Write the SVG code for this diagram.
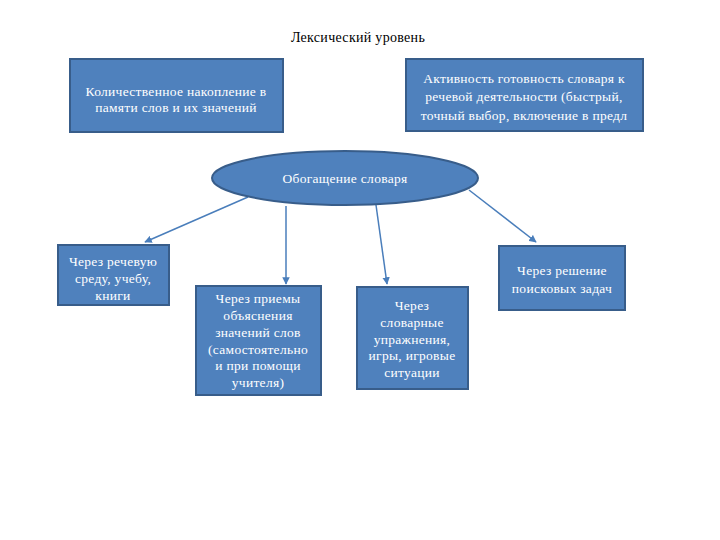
<svg xmlns="http://www.w3.org/2000/svg" width="720" height="540" viewBox="0 0 720 540">
<defs>
<style>
.box{fill:#4f81bd;stroke:#385d8a;stroke-width:2}
text{font-family:'Liberation Serif','Times New Roman','DejaVu Serif',serif}
.t{font-size:13.5px;fill:#ffffff;text-anchor:middle;letter-spacing:0.3px}
.title{font-size:14px;fill:#000000;text-anchor:middle;letter-spacing:0.3px}
.c{stroke:#4a7ebb;stroke-width:1.5;fill:none;marker-end:url(#ah)}
</style>
<marker id="ah" viewBox="0 0 10 10" refX="9" refY="5" markerWidth="5" markerHeight="5" orient="auto-start-reverse">
<path d="M0,0 L10,5 L0,10 z" fill="#4a7ebb"/>
</marker>
</defs>
<rect width="720" height="540" fill="#ffffff"/>
<text class="title" x="358" y="42">Лексический уровень</text>
<g id="connectors">
<line class="c" x1="248" y1="197" x2="145" y2="242"/>
<line class="c" x1="286" y1="206" x2="286" y2="284"/>
<line class="c" x1="376" y1="205" x2="387" y2="284"/>
<line class="c" x1="469" y1="190" x2="536" y2="242"/>
</g>
<g id="n-quantity">
<rect class="box" x="70" y="59" width="213" height="73"/>
<text class="t" x="176" y="96">Количественное накопление в</text>
<text class="t" x="176" y="112">памяти слов и их значений</text>
</g>
<g id="n-activity">
<rect class="box" x="406" y="59" width="237" height="72"/>
<text class="t" x="524" y="83">Активность готовность словаря к</text>
<text class="t" x="524" y="101">речевой деятельности (быстрый,</text>
<text class="t" x="524" y="120">точный выбор, включение в предл</text>
</g>
<g id="n-enrich">
<ellipse class="box" cx="345" cy="178" rx="133" ry="27"/>
<text class="t" x="345" y="183">Обогащение словаря</text>
</g>
<g id="n-speech">
<rect class="box" x="58" y="245" width="111" height="60"/>
<text class="t" x="113" y="266">Через речевую</text>
<text class="t" x="113" y="283">среду, учебу,</text>
<text class="t" x="113" y="300">книги</text>
</g>
<g id="n-explain">
<rect class="box" x="196" y="286" width="125" height="109"/>
<text class="t" x="258" y="303">Через приемы</text>
<text class="t" x="258" y="320">объяснения</text>
<text class="t" x="258" y="337">значений слов</text>
<text class="t" x="258" y="354">(самостоятельно</text>
<text class="t" x="258" y="370">и при помощи</text>
<text class="t" x="258" y="387">учителя)</text>
</g>
<g id="n-exercises">
<rect class="box" x="357" y="287" width="111" height="102"/>
<text class="t" x="412" y="310">Через</text>
<text class="t" x="412" y="327">словарные</text>
<text class="t" x="412" y="344">упражнения,</text>
<text class="t" x="412" y="360">игры, игровые</text>
<text class="t" x="412" y="377">ситуации</text>
</g>
<g id="n-search">
<rect class="box" x="499" y="246" width="126" height="64"/>
<text class="t" x="562" y="275">Через решение</text>
<text class="t" x="562" y="293">поисковых задач</text>
</g>
</svg>
